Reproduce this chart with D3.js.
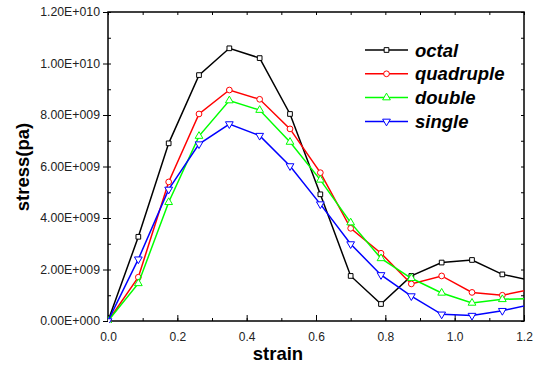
<!DOCTYPE html>
<html>
<head>
<meta charset="utf-8">
<script src="https://cdn.jsdelivr.net/npm/d3@7"></script>
<style>
  body { margin: 0; background: #fff; }
  text { font-family: Arial, "Liberation Sans", sans-serif; }
</style>
</head>
<body>
<div class="chart"></div>
<script>
// strain values (last one sits just past the axis end and gets clipped)
const strain = [0, 0.0875, 0.175, 0.2625, 0.35, 0.4375, 0.525, 0.6125, 0.7, 0.7875, 0.875, 0.9625, 1.05, 1.1375, 1.225];

// stress in units of 1e9 Pa
const octal      = [0, 3.27, 6.90, 9.55, 10.59, 10.21, 8.04, 4.92, 1.75, 0.66, 1.75, 2.27, 2.37, 1.81, 1.56];
const quadruple  = [0, 1.70, 5.40, 8.04, 8.97, 8.61, 7.46, 5.76, 3.60, 2.63, 1.44, 1.75, 1.11, 1.00, 1.24];
const double_    = [0, 1.46, 4.61, 7.18, 8.56, 8.19, 6.95, 5.48, 3.82, 2.43, 1.66, 1.09, 0.70, 0.84, 0.88];
const single     = [0, 2.40, 5.11, 6.87, 7.65, 7.20, 6.02, 4.54, 2.99, 1.79, 0.97, 0.26, 0.21, 0.40, 0.65];

const seriesNames = ['octal', 'quadruple', 'double', 'single'];

const xTicks = [0, 0.2, 0.4, 0.6, 0.8, 1.0, 1.2];
const xTickLabels = ['0.0', '0.2', '0.4', '0.6', '0.8', '1.0', '1.2'];
const yTicks = [0, 2e9, 4e9, 6e9, 8e9, 1e10, 1.2e10];
const yTickLabels = ['0.00E+000', '2.00E+009', '4.00E+009', '6.00E+009', '8.00E+009', '1.00E+010', '1.20E+010'];

const W = 541, H = 367;
const margin = { top: 12, right: 17, bottom: 46, left: 108 };
const width = W - margin.left - margin.right;
const height = H - margin.top - margin.bottom;

const svg = d3.select('.chart').append('svg')
  .attr('width', W).attr('height', H);

const g = svg.append('g').attr('transform', `translate(${margin.left},${margin.top})`);

const x = d3.scaleLinear().domain([0, 1.2]).range([0, width]);
const y = d3.scaleLinear().domain([0, 1.2e10]).range([height, 0]);

g.append('clipPath').attr('id', 'plotclip')
  .append('rect').attr('x', 0).attr('y', -2).attr('width', width).attr('height', height + 4);

// minor ticks (inside)
const xMinor = d3.range(0, 1.21, 0.1);
const yMinor = d3.range(0, 1.21e10, 1e9);

g.append('g').attr('transform', `translate(0,${height})`)
  .call(d3.axisBottom(x).tickValues(xMinor).tickSize(-3).tickSizeOuter(0).tickFormat(''))
  .call(a => a.select('.domain').remove());
g.append('g').attr('transform', `translate(0,${height})`)
  .call(d3.axisBottom(x).tickValues(xTicks).tickSize(-6).tickSizeOuter(0).tickPadding(11)
    .tickFormat((d, i) => xTickLabels[i]))
  .call(a => a.select('.domain').remove())
  .call(a => a.selectAll('text').attr('font-size', 12).attr('fill', '#222'));

g.append('g')
  .call(d3.axisLeft(y).tickValues(yMinor).tickSize(-3).tickSizeOuter(0).tickFormat(''))
  .call(a => a.select('.domain').remove());
g.append('g')
  .call(d3.axisLeft(y).tickValues(yTicks).tickSize(5).tickSizeOuter(0).tickPadding(3)
    .tickFormat((d, i) => yTickLabels[i]))
  .call(a => a.select('.domain').remove())
  .call(a => a.selectAll('text').attr('font-size', 12.3).attr('fill', '#222'));

// top & right inside ticks
g.append('g')
  .call(d3.axisTop(x).tickValues(xMinor).tickSize(-3).tickSizeOuter(0).tickFormat(''))
  .call(a => a.select('.domain').remove());
g.append('g').attr('transform', `translate(${width},0)`)
  .call(d3.axisRight(y).tickValues(yMinor).tickSize(-3).tickSizeOuter(0).tickFormat(''))
  .call(a => a.select('.domain').remove());

g.selectAll('.tick line').attr('stroke', '#000').attr('stroke-width', 1);

// frame
g.append('rect').attr('width', width).attr('height', height)
  .attr('fill', 'none').attr('stroke', '#000').attr('stroke-width', 1.5);

const colors = ['#000000', '#ff0000', '#00ff00', '#0000ff'];
const values = [octal, quadruple, double_, single];
const symbols = [d3.symbolSquare, d3.symbolCircle, d3.symbolTriangle, d3.symbolTriangle];
const symSizes = [22, 26, 26, 26];
const symRot = [0, 0, 0, 180];

const line = d3.line().x(d => x(d[0])).y(d => y(d[1] * 1e9));

const plot = g.append('g').attr('clip-path', 'url(#plotclip)');

values.forEach((vals, si) => {
  const pts = strain.map((s, i) => [s, vals[i]]);
  plot.append('path').datum(pts)
    .attr('d', line)
    .attr('fill', 'none')
    .attr('stroke', colors[si])
    .attr('stroke-width', 1.5);
  plot.selectAll('.m' + si).data(pts).enter().append('path')
    .attr('class', 'm' + si)
    .attr('d', d3.symbol().type(symbols[si]).size(symSizes[si]))
    .attr('transform', d => `translate(${x(d[0])},${y(d[1] * 1e9)}) rotate(${symRot[si]})`)
    .attr('fill', '#fff')
    .attr('stroke', colors[si])
    .attr('stroke-width', 1);
});

// legend
const legend = svg.append('g').attr('transform', 'translate(365,50)');
seriesNames.forEach((name, i) => {
  const row = legend.append('g').attr('transform', `translate(0,${i * 23.8})`);
  row.append('line').attr('x1', 0).attr('x2', 43).attr('y1', 0).attr('y2', 0)
    .attr('stroke', colors[i]).attr('stroke-width', 1.5);
  row.append('path')
    .attr('d', d3.symbol().type(symbols[i]).size(symSizes[i]))
    .attr('transform', `translate(21.5,0) rotate(${symRot[i]})`)
    .attr('fill', '#fff').attr('stroke', colors[i]).attr('stroke-width', 1);
  row.append('text').attr('x', 50).attr('y', 6.5)
    .attr('font-size', 18.5).attr('font-weight', 'bold').attr('font-style', 'italic')
    .attr('fill', '#000').text(name);
});

// axis titles
svg.append('text').attr('x', 278).attr('y', 360)
  .attr('text-anchor', 'middle').attr('font-size', 18.5).attr('font-weight', 'bold')
  .text('strain');
svg.append('text').attr('transform', 'translate(29,167) rotate(-90)')
  .attr('text-anchor', 'middle').attr('font-size', 18.5).attr('font-weight', 'bold')
  .text('stress(pa)');
</script>
</body>
</html>
